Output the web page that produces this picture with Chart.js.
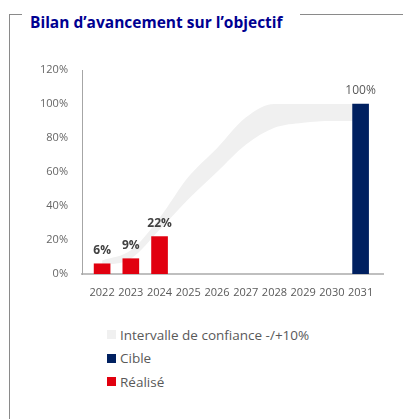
<!DOCTYPE html>
<html>
<head>
<meta charset="utf-8">
<script src="https://cdn.jsdelivr.net/npm/chart.js@4/dist/chart.umd.min.js"></script>
<style>
  html, body { margin: 0; padding: 0; background: #fff; }
  body { width: 403px; height: 419px; position: relative; overflow: hidden; font-family: "Open Sans", sans-serif; }
  .frame-left { position: absolute; left: 9px; top: 14px; width: 1px; height: 405px; background: #8a8a8a; }
  .frame-top1 { position: absolute; left: 9px; top: 14px; width: 13px; height: 1px; background: #8a8a8a; }
  .frame-top2 { position: absolute; left: 300px; top: 14px; width: 103px; height: 1px; background: #8a8a8a; }
  #title { position: absolute; left: 30px; top: 10px; font-family: "Open Sans", sans-serif; font-weight: bold; font-size: 15.5px; color: #000091; white-space: nowrap; line-height: 24px; }
  #chartWrap { position: absolute; left: 0; top: 0; width: 403px; height: 300px; }
  #legend { position: absolute; left: 107px; top: 323px; font-size: 13.5px; color: #595959; }
  .li { height: 23.5px; display: flex; align-items: center; white-space: nowrap; }
  .box { width: 9px; height: 9px; margin-right: 4px; flex: none; }
</style>
</head>
<body>
<div class="frame-left"></div>
<div class="frame-top1"></div>
<div class="frame-top2"></div>
<div id="title">Bilan d’avancement sur l’objectif</div>
<div id="chartWrap"><canvas id="c" width="403" height="300"></canvas></div>
<div id="legend"></div>
<script>
// ---- Data ----
const years = [2022, 2023, 2024, 2025, 2026, 2027, 2028, 2029, 2030, 2031];
const bandLower = [5, 9, 26, 44, 60, 76, 86, 89, 90, 90];
const bandUpper = [8, 14, 33, 57, 74, 92, 100, 100, 100, 100];
const realisedYears = [2022, 2023, 2024];
const realisedValues = [6, 9, 22];
const targetYears = [2031];
const targetValues = [100];
const yTicks = [0, 20, 40, 60, 80, 100, 120];

const labelBand = "Intervalle de confiance -/+10%";
const labelTarget = "Cible";
const labelRealised = "Réalisé";

const colBand = "#f0f0f0";
const colTarget = "#002060";
const colRealised = "#e1000f";

const pts = (xs, ys) => xs.map((x, i) => ({ x: x, y: ys[i] }));

const valueLabels = {
  id: 'valueLabels',
  afterDatasetsDraw(chart) {
    const ctx = chart.ctx;
    chart.data.datasets.forEach((ds, i) => {
      if (ds.type !== 'bar') return;
      const meta = chart.getDatasetMeta(i);
      meta.data.forEach((el, j) => {
        const v = ds.data[j].y;
        ctx.save();
        ctx.textAlign = 'center';
        ctx.textBaseline = 'middle';
        if (ds.label === labelRealised) {
          ctx.font = 'bold 12px "Open Sans"';
          ctx.fillStyle = '#404040';
        } else {
          ctx.font = '12px "Open Sans"';
          ctx.fillStyle = '#595959';
        }
        ctx.fillText(v + '%', el.x, el.y - 13);
        ctx.restore();
      });
    });
  }
};

const chart = new Chart(document.getElementById('c'), {
  data: {
    datasets: [
      { type: 'line', label: labelBand, data: pts(years, bandUpper), fill: '+1',
        backgroundColor: colBand, borderColor: 'rgba(0,0,0,0)', borderWidth: 0,
        pointRadius: 0, cubicInterpolationMode: 'monotone', order: 2 },
      { type: 'line', label: labelBand + ' (bas)', data: pts(years, bandLower), fill: false,
        backgroundColor: colBand, borderColor: 'rgba(0,0,0,0)', borderWidth: 0,
        pointRadius: 0, cubicInterpolationMode: 'monotone', order: 3 },
      { type: 'bar', label: labelTarget, data: pts(targetYears, targetValues),
        backgroundColor: colTarget, barThickness: 16, grouped: false, order: 0 },
      { type: 'bar', label: labelRealised, data: pts(realisedYears, realisedValues),
        backgroundColor: colRealised, barThickness: 16, grouped: false, order: 0 }
    ]
  },
  options: {
    responsive: false,
    devicePixelRatio: 1,
    animation: false,
    layout: { padding: { top: 70, right: 20, bottom: 0, left: 0 } },
    plugins: { legend: { display: false }, tooltip: { enabled: false } },
    scales: {
      x: {
        type: 'linear',
        offset: false,
        bounds: 'data',
        min: 2021.3, max: 2031.78,
        grid: { display: false, drawTicks: false, offset: false },
        border: { display: true, color: '#bfbfbf', width: 2 },
        afterBuildTicks: (s) => { s.ticks = years.map(v => ({ value: v })); },
        afterFit: (s) => { s.height = 26; s.paddingLeft = 0; s.paddingRight = 0; },
        ticks: { autoSkip: false, maxRotation: 0, padding: 12, color: '#595959',
                 font: { family: 'Open Sans', size: 11 }, callback: (v) => String(v) }
      },
      y: {
        min: 0, max: 120,
        grid: { display: false, drawTicks: false },
        border: { display: true, color: '#a6a6a6', width: 1 },
        afterBuildTicks: (s) => { s.ticks = yTicks.map(v => ({ value: v })); },
        afterFit: (s) => { s.width = 82; s.paddingTop = 0; s.paddingBottom = 0; },
        ticks: { padding: 14, color: '#666666', font: { family: 'Open Sans', size: 11 },
                 callback: (v) => v + '%' }
      }
    }
  },
  plugins: [valueLabels]
});

// HTML legend built from the datasets
const legendItems = [
  { label: labelBand, color: colBand },
  { label: labelTarget, color: colTarget },
  { label: labelRealised, color: colRealised }
];
const lg = document.getElementById('legend');
legendItems.forEach(it => {
  const d = document.createElement('div');
  d.className = 'li';
  const b = document.createElement('span');
  b.className = 'box';
  b.style.background = it.color;
  const t = document.createElement('span');
  t.textContent = it.label;
  d.appendChild(b); d.appendChild(t);
  lg.appendChild(d);
});
</script>
</body>
</html>
